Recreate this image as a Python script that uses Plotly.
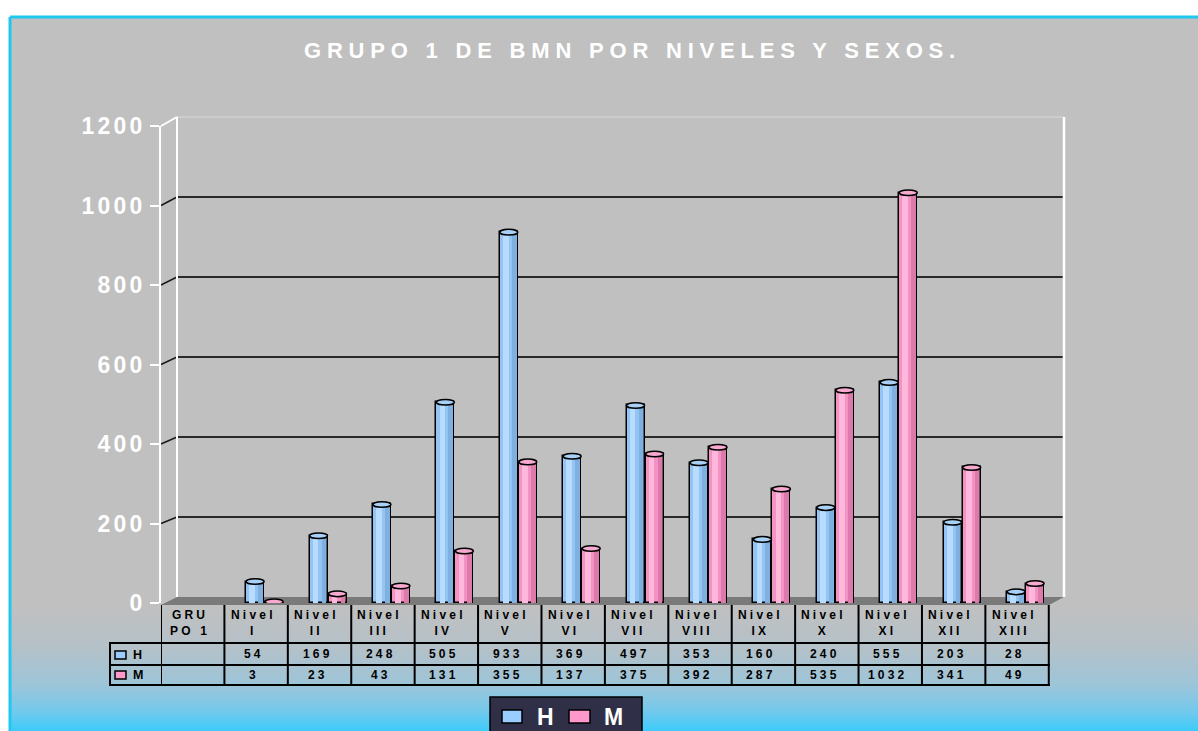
import base64
import plotly.graph_objects as go

# ---------------- data ----------------
categories = ["GRUPO 1", "Nivel I", "Nivel II", "Nivel III", "Nivel IV", "Nivel V", "Nivel VI",
              "Nivel VII", "Nivel VIII", "Nivel IX", "Nivel X", "Nivel XI", "Nivel XII", "Nivel XIII"]
header_labels = ["GRU<br>PO 1", "Nivel<br>I", "Nivel<br>II", "Nivel<br>III", "Nivel<br>IV", "Nivel<br>V",
                 "Nivel<br>VI", "Nivel<br>VII", "Nivel<br>VIII", "Nivel<br>IX", "Nivel<br>X", "Nivel<br>XI",
                 "Nivel<br>XII", "Nivel<br>XIII"]
h_values = [None, 54, 169, 248, 505, 933, 369, 497, 353, 160, 240, 555, 203, 28]
m_values = [None, 3, 23, 43, 131, 355, 137, 375, 392, 287, 535, 1032, 341, 49]
series_names = ["H", "M"]
y_ticks = [0, 200, 400, 600, 800, 1000, 1200]
title_text = "GRUPO 1 DE BMN POR NIVELES Y SEXOS."

# ---------------- geometry / style ----------------
W, H = 1198, 731
L, R, T, B = 161, 134, 126, 128
PW, PH = W - L - R, H - T - B
FONT = "Arial, Liberation Sans, sans-serif"


def px(x):
    return (x - L) / PW


def py(y):
    return (H - B - y) / PH


def y_front(v):
    return 603 - v * 0.3975


def y_back(v):
    return 597 - v * 0.4


def spaced(text, ls):
    return f'<span style="letter-spacing:{ls}px">{text}</span>'


H_COL, H_LIGHT, H_DARK, H_TOP = "#93C4F2", "#B8DCFF", "#7FB0E0", "#A9D1F7"
M_COL, M_LIGHT, M_DARK, M_TOP = "#F293C3", "#FFB8DC", "#DB7AAB", "#F8A9D0"
H_OFF, M_OFF, BW = -0.158, 0.142, 0.284

fig = go.Figure()


def add_series(vals, off, base, light, dark, name):
    fig.add_trace(go.Bar(x=categories, y=vals, offset=off, width=BW, name=name,
                         marker=dict(color=base, line=dict(color="black", width=1.5)),
                         showlegend=False))
    fig.add_trace(go.Bar(x=categories, y=vals, offset=off + 0.05, width=0.09,
                         marker=dict(color=light, line=dict(width=0)),
                         showlegend=False, hoverinfo="skip"))
    fig.add_trace(go.Bar(x=categories, y=vals, offset=off + 0.19, width=0.075,
                         marker=dict(color=dark, line=dict(width=0)),
                         showlegend=False, hoverinfo="skip"))


add_series(h_values, H_OFF, H_COL, H_LIGHT, H_DARK, series_names[0])
add_series(m_values, M_OFF, M_COL, M_LIGHT, M_DARK, series_names[1])

shapes = []


def line(x0, y0, x1, y1, color, width, layer="below"):
    shapes.append(dict(type="line", xref="paper", yref="paper", x0=px(x0), y0=py(y0),
                       x1=px(x1), y1=py(y1), line=dict(color=color, width=width), layer=layer))


# border of chart area
line(10, 17, W + 5, 17, "#1FC8F0", 3)
line(10, 17, 10, H + 5, "#1FC8F0", 3)

# back wall top & gridlines
line(177, y_back(1200), 1064, y_back(1200), "#D9D9D9", 1)
for v in y_ticks[1:-1]:
    line(177, y_back(v), 1064, y_back(v), "#2A2A2A", 2)
    line(161, y_front(v), 177, y_back(v), "#1A1A1A", 1.5)
# walls
line(177, y_back(1200), 177, y_back(0), "white", 2)
line(161, y_front(1200), 177, y_back(1200), "white", 2)
line(1064, y_back(1200), 1064, y_back(0), "white", 2.5)
# floor
shapes.append(dict(type="path", xref="paper", yref="paper", layer="below",
                   path=f"M {px(161)},{py(605)} L {px(177)},{py(597)} L {px(1064)},{py(597)} "
                        f"L {px(1049)},{py(605)} Z",
                   fillcolor="#7A7A7A", line=dict(width=0)))

# bar tops (ellipses)
for i, v in enumerate(h_values):
    if v is not None:
        shapes.append(dict(type="circle", xref="x", yref="y", x0=i + H_OFF, x1=i + H_OFF + BW,
                           y0=v - 7, y1=v + 7, fillcolor=H_TOP, line=dict(color="black", width=1.5)))
for i, v in enumerate(m_values):
    if v is not None:
        shapes.append(dict(type="circle", xref="x", yref="y", x0=i + M_OFF, x1=i + M_OFF + BW,
                           y0=v - 7, y1=v + 7, fillcolor=M_TOP, line=dict(color="black", width=1.5)))

# data table grid
for k in range(len(categories) + 1):
    shapes.append(dict(type="line", xref="x", yref="paper", x0=k - 0.5, x1=k - 0.5,
                       y0=py(605), y1=py(685), line=dict(color="black", width=2)))
for yy in (643, 665, 685):
    shapes.append(dict(type="line", xref="paper", yref="paper", x0=px(110), x1=px(1050),
                       y0=py(yy), y1=py(yy), line=dict(color="black", width=2)))
shapes.append(dict(type="line", xref="paper", yref="paper", x0=px(110), x1=px(110),
                   y0=py(642), y1=py(686), line=dict(color="black", width=2)))
# table legend keys
for (y0, y1, c) in ((651, 659, "#99CCFF"), (671, 679, "#FF99CC")):
    shapes.append(dict(type="rect", xref="paper", yref="paper", x0=px(115), x1=px(126),
                       y0=py(y1), y1=py(y0), fillcolor=c, line=dict(color="black", width=1.5)))

# legend box
shapes.append(dict(type="rect", xref="paper", yref="paper", x0=px(490), x1=px(642),
                   y0=py(H + 3), y1=py(697), fillcolor="#2F3047", line=dict(color="black", width=1.5)))
for (x0, x1, c) in ((502, 522, "#99CCFF"), (569, 590, "#FF99CC")):
    shapes.append(dict(type="rect", xref="paper", yref="paper", x0=px(x0), x1=px(x1),
                       y0=py(723), y1=py(710), fillcolor=c, line=dict(color="black", width=1.5)))

annotations = []


def ann(**kw):
    d = dict(showarrow=False, xanchor="center", yanchor="middle")
    d.update(kw)
    annotations.append(d)


ann(xref="paper", yref="paper", x=px(632), y=py(50),
    text="<b>" + spaced(title_text, 5.8) + "</b>",
    font=dict(family=FONT, size=22, color="white"))
for i, lab in enumerate(header_labels):
    ann(xref="x", yref="paper", x=i, xshift=-3, y=py(622.5),
        text="<b>" + spaced(lab, 3.2) + "</b>", align="center",
        font=dict(family=FONT, size=12, color="black"))
for i, (hv, mv) in enumerate(zip(h_values, m_values)):
    if hv is not None:
        ann(xref="x", yref="paper", x=i, xshift=-2, y=py(654),
            text="<b>" + spaced(str(hv), 3.2) + "</b>",
            font=dict(family=FONT, size=12, color="black"))
    if mv is not None:
        ann(xref="x", yref="paper", x=i, xshift=-2, y=py(674.5),
            text="<b>" + spaced(str(mv), 3.2) + "</b>",
            font=dict(family=FONT, size=12, color="black"))
for name, yy in zip(series_names, (655, 675)):
    ann(xref="paper", yref="paper", x=px(131), y=py(yy), xanchor="left",
        text="<b>" + name + "</b>",
        font=dict(family=FONT, size=12.5, color="black"))
for name, xx in zip(series_names, (545, 613)):
    ann(xref="paper", yref="paper", x=px(xx), y=py(717),
        text="<b>" + name + "</b>",
        font=dict(family=FONT, size=23, color="white"))

# gradient background
svg = ("<svg xmlns='http://www.w3.org/2000/svg' width='100' height='100' viewBox='0 0 100 100' "
       "preserveAspectRatio='none'><defs><linearGradient id='g' x1='0' y1='0' x2='0' y2='1'>"
       "<stop offset='0' stop-color='#C0C0C0'/><stop offset='0.82' stop-color='#C0C0C0'/>"
       "<stop offset='0.875' stop-color='#B5C1C8'/><stop offset='0.93' stop-color='#9CC5D9'/>"
       "<stop offset='0.965' stop-color='#74C9EC'/><stop offset='1' stop-color='#30CCFF'/>"
       "</linearGradient></defs><rect x='0' y='0' width='100' height='100' fill='url(#g)'/></svg>")
src = "data:image/svg+xml;base64," + base64.b64encode(svg.encode()).decode()

fig.update_layout(
    width=W, height=H,
    margin=dict(l=L, r=R, t=T, b=B, pad=0),
    paper_bgcolor="white", plot_bgcolor="rgba(0,0,0,0)",
    barmode="overlay", bargap=0,
    showlegend=False,
    xaxis=dict(type="category", categoryorder="array", categoryarray=categories,
               range=[-0.5, 13.74], showticklabels=False, showgrid=False, zeroline=False,
               showline=False, ticks="", fixedrange=True),
    yaxis=dict(range=[0, 1200], tickvals=y_ticks,
               ticktext=["<b>" + spaced(str(v), 3.2) + "</b>" for v in y_ticks],
               tickfont=dict(family=FONT, size=23, color="white"),
               showgrid=False, zeroline=False, showline=True, linecolor="white", linewidth=2,
               ticks="outside", ticklen=9, tickwidth=2, tickcolor="white", fixedrange=True),
    images=[dict(source=src, xref="paper", yref="paper", x=px(10), y=py(17),
                 sizex=px(W + 5) - px(10), sizey=py(17) - py(H + 5), xanchor="left", yanchor="top",
                 sizing="stretch", layer="below")],
    shapes=shapes,
    annotations=annotations,
)

fig.write_html("out.html", config={"displayModeBar": False},
               post_script="document.body.style.margin='0';document.body.style.overflow='hidden';")
